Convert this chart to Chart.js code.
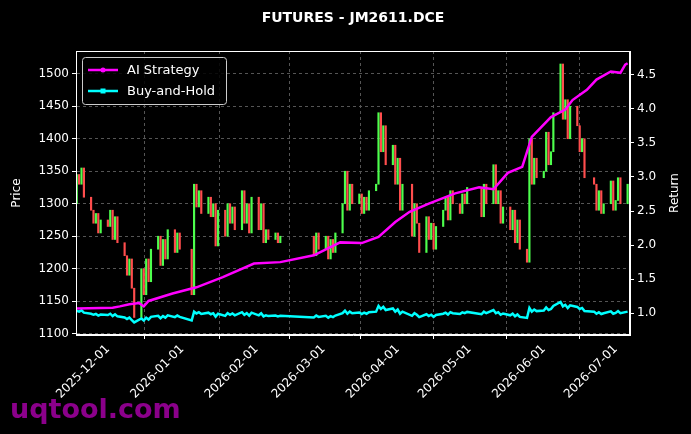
<!DOCTYPE html>
<html><head><meta charset="utf-8">
<script src="https://cdn.jsdelivr.net/npm/chart.js@4.4.0/dist/chart.umd.min.js"></script>
<style>html,body{margin:0;background:#000;}#c{display:block}</style>
</head><body><canvas id="c" width="691" height="434"></canvas>
<script>
const title = "FUTURES - JM2611.DCE";
const monthTicks = ["2025-12-01","2026-01-01","2026-02-01","2026-03-01","2026-04-01","2026-05-01","2026-06-01","2026-07-01"];
const priceTicks = [1100,1150,1200,1250,1300,1350,1400,1450,1500];
const returnTicks = [1.0,1.5,2.0,2.5,3.0,3.5,4.0,4.5];
const startDate = "2025-11-18", endDate = "2026-07-06";
const holidays = ["2026-01-01","2026-01-02","2026-02-12","2026-02-13","2026-02-16","2026-02-17","2026-02-18","2026-02-19","2026-02-20","2026-02-23","2026-02-24","2026-04-06","2026-05-01","2026-05-04","2026-05-05","2026-06-19"];
const firstOpen = 1300;
const closes = [
1345,1330,1355,1310,1290,1270,1285,1255,1275,
1265,1290,1245,1280,1240, 1220,1190,1215,1170,1125, 1200,1160,1215,1180,1230, 1250,1205,1245,1215,1260, 1225,1255,1230,
1160,1330,1295,1320,1285, 1310,1280,1300,1235,1290, 1250,1300,1270,1295,1260, 1320,1270,1300,1255,1310,
1260,1300,1240,1260,1245, 1255,1240,1250, 1220,1255,1230,
1250,1215,1245,1225,1255, 1300,1350,1290,1330,1300, 1315,1285,1310,1290,1320, 1330,1440,1380,1420,1360, 1390,1330,
1370,1290,1330, 1250,1300,1270,1225, 1280,1245,1270,1230,1265, 1290,1310,1275,1320,1300, 1285,1315,1300,1325,
1280,1330,1300, 1360,1300,1320,1270,1295, 1260,1290,1240,1275,1230, 1210,1400,1330,1370,1340,
1350,1410,1360,1380,1440, 1515,1430,1460,1400,1450, 1420,1380,1400,1340, 1330,1290,1320,1285,1300, 1335,1290,
1305,1340,1300,1330];
const stratDates = ["2025-11-18","2025-12-03","2025-12-06","2025-12-10","2025-12-14","2025-12-16","2025-12-18","2025-12-28","2026-01-07","2026-01-18","2026-01-31","2026-02-11","2026-02-25","2026-03-08","2026-03-17","2026-03-24","2026-03-31","2026-04-06","2026-04-14","2026-04-25","2026-05-05","2026-05-11","2026-05-17","2026-05-23","2026-05-27","2026-06-04","2026-06-10","2026-06-13","2026-06-19","2026-06-23","2026-06-29","2026-07-03","2026-07-05","2026-07-06"];
const stratValues = [1.07,1.08,1.10,1.13,1.15,1.10,1.18,1.29,1.38,1.53,1.73,1.75,1.85,2.04,2.03,2.12,2.34,2.49,2.61,2.76,2.85,2.82,3.06,3.15,3.59,3.88,3.99,4.13,4.28,4.43,4.55,4.53,4.65,4.67];

const DAY = 86400000, ORIGIN = Date.UTC(2025,11,1);
const toDay = s => (Date.parse(s+"T00:00:00Z") - ORIGIN)/DAY;
const fromDay = d => new Date(ORIGIN + d*DAY).toISOString().slice(0,10);
const tradeDays = [];
for (let d = toDay(startDate); d <= toDay(endDate) && tradeDays.length < closes.length; d++) {
  const wd = new Date(ORIGIN + d*DAY).getUTCDay();
  if (wd === 0 || wd === 6 || holidays.includes(fromDay(d))) continue;
  tradeDays.push(d);
}
const opens = closes.map((c,i)=> i===0 ? firstOpen : closes[i-1]);
const candles = tradeDays.map((d,i)=>({x:d, y:[opens[i], closes[i]]}));
const candleColors = closes.map((c,i)=> c>=opens[i] ? '#4dff4d' : '#ff4d4d');
const bh = tradeDays.map((d,i)=>({x:d, y: closes[i]/firstOpen}));
const strat = stratDates.map((s,i)=>({x:toDay(s), y:stratValues[i]}));
const mTickDays = monthTicks.map(toDay);

const deco = {
  id:'deco',
  afterDraw(ch){
    const c = ch.ctx, a = ch.chartArea;
    c.save();
    c.strokeStyle='#fff'; c.lineWidth=1; c.strokeRect(a.left+0.5,a.top+0.5,a.right-a.left-1,a.bottom-a.top-1);
    c.fillStyle='#fff'; c.font='bold 14px "DejaVu Sans"'; c.textAlign='center'; c.textBaseline='middle';
    c.fillText(title, (a.left+a.right)/2, 18);
    c.font='12px "DejaVu Sans"';
    c.save(); c.translate(17,(a.top+a.bottom)/2); c.rotate(-Math.PI/2); c.fillText('Price',0,0); c.restore();
    c.save(); c.translate(675,(a.top+a.bottom)/2); c.rotate(-Math.PI/2); c.fillText('Return',0,0); c.restore();
    c.fillStyle='rgba(0,0,0,0.85)'; c.strokeStyle='#cccccc'; c.lineWidth=1;
    const bx=a.left+6, by=a.top+6, bw=144, bh2=47;
    c.beginPath(); c.roundRect(bx+0.5,by+0.5,bw,bh2,3); c.fill(); c.stroke();
    const items=[['AI Strategy','#ff00ff','circle'],['Buy-and-Hold','#00ffff','square']];
    items.forEach((it,i)=>{
      const y=by+13+i*21;
      c.strokeStyle=it[1]; c.lineWidth=2.5; c.beginPath(); c.moveTo(bx+6,y); c.lineTo(bx+36,y); c.stroke();
      c.fillStyle=it[1];
      if(it[2]==='circle'){c.beginPath(); c.arc(bx+21,y,2.5,0,Math.PI*2); c.fill();}
      else c.fillRect(bx+18.5,y-2.5,5,5);
      c.fillStyle='#fff'; c.font='13px "DejaVu Sans"'; c.textAlign='left';
      c.fillText(it[0], bx+45, y+1);
    });
    c.fillStyle='#8b008b'; c.font='bold 27px "DejaVu Sans"'; c.textAlign='left'; c.textBaseline='alphabetic';
    c.fillText('uqtool.com', 10, 418);
    c.restore();
  }
};

new Chart(document.getElementById('c'), {
  data:{datasets:[
    {type:'bar', data:candles, backgroundColor:candleColors, barThickness:1.5, minBarLength:1, yAxisID:'y', xAxisID:'x', order:3},
    {type:'line', data:strat, borderColor:'#ff00ff', borderWidth:2.5, pointRadius:0, yAxisID:'y1', xAxisID:'x', order:1},
    {type:'line', data:bh, borderColor:'#00ffff', borderWidth:2.5, pointRadius:0, yAxisID:'y1', xAxisID:'x', order:2}
  ]},
  options:{
    responsive:false, animation:false, events:[],
    layout:{padding:{top:51,left:0,right:0,bottom:0}},
    plugins:{legend:{display:false}, tooltip:{enabled:false}},
    scales:{
      x:{type:'linear', min:-13.3, max:218, offset:false,
        afterBuildTicks(s){s.ticks = mTickDays.map(v=>({value:v}));},
        afterFit(s){s.height=99;},
        ticks:{color:'#fff', font:{size:12,family:'DejaVu Sans'}, minRotation:45, maxRotation:45, callback:v=>fromDay(v)},
        grid:{color:'#555', tickColor:'#fff', tickLength:4},
        border:{color:'#fff', width:1, dash:[3,3]}},
      y:{position:'left', min:1098, max:1535,
        afterBuildTicks(s){s.ticks = priceTicks.map(v=>({value:v}));},
        afterFit(s){s.width=76;},
        ticks:{color:'#fff', font:{size:12,family:'DejaVu Sans'}, callback:v=>String(v)},
        grid:{color:'#555', tickColor:'#fff', tickLength:4},
        border:{color:'#fff', width:1, dash:[3,3]}},
      y1:{position:'right', min:0.68, max:4.85,
        afterBuildTicks(s){s.ticks = returnTicks.map(v=>({value:v}));},
        afterFit(s){s.width=61;},
        ticks:{color:'#fff', font:{size:12,family:'DejaVu Sans'}, callback:v=>v.toFixed(1)},
        grid:{tickColor:'#fff', tickLength:4, drawOnChartArea:false},
        border:{color:'#fff', width:1}}
    }
  },
  plugins:[deco, {id:'bg', beforeDraw(ch){const c=ch.ctx;c.save();c.fillStyle='#000';c.fillRect(0,0,ch.width,ch.height);c.restore();}}]
});
</script></body></html>
